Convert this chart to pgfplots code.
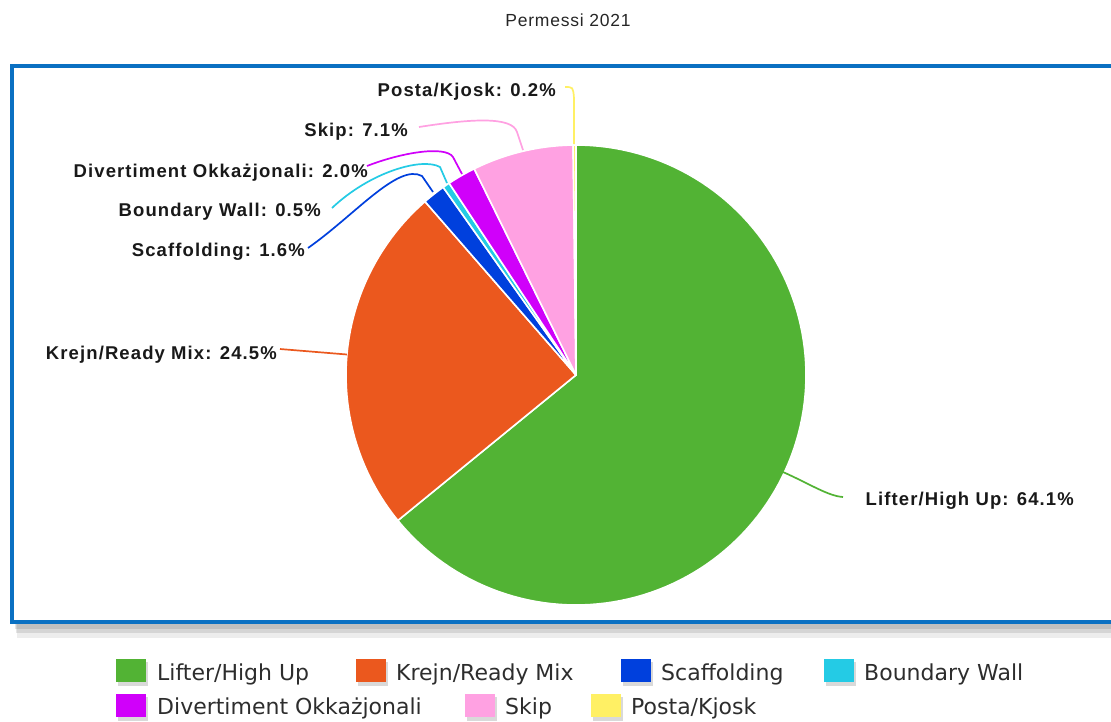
\documentclass[border=0pt]{standalone}
\usepackage{fontspec}
\setmainfont{Liberation Sans}
\newfontfamily\lblfont[LetterSpace=6]{Liberation Sans Bold}
\newfontfamily\legfont{DejaVu Sans}
\newfontfamily\titlefont[LetterSpace=4.5]{Liberation Sans}
\usepackage{pgfplots}
\pgfplotsset{compat=1.18}
\definecolor{cLifter}{RGB}{82,179,52}
\definecolor{cKrejn}{RGB}{235,88,30}
\definecolor{cScaf}{RGB}{0,64,221}
\definecolor{cBound}{RGB}{36,203,229}
\definecolor{cDiv}{RGB}{208,0,250}
\definecolor{cSkip}{RGB}{255,161,226}
\definecolor{cPosta}{RGB}{255,240,100}
\definecolor{boxblue}{RGB}{10,112,194}
\definecolor{txtgray}{RGB}{45,45,45}
\tikzset{
  lbl/.style={anchor=base east, inner sep=0pt, font=\lblfont\fontsize{18.5}{22}\selectfont, text=black!90},
  leg/.style={anchor=base west, inner sep=0pt, font=\legfont\fontsize{22}{26}\selectfont, text=txtgray},
  lead/.style={line width=1.7pt},
  slice/.style={draw=white, line width=1.6pt, line join=round}}
\begin{document}
\begin{tikzpicture}
% shares in percent
\def\vLifter{64.1}\def\vKrejn{24.5}\def\vScaf{1.6}\def\vBound{0.5}
\def\vDiv{2.0}\def\vSkip{7.1}\def\vPosta{0.2}
\pgfmathsetmacro\aA{90}
\pgfmathsetmacro\aB{\aA-3.6*\vLifter}
\pgfmathsetmacro\aC{\aB-3.6*\vKrejn}
\pgfmathsetmacro\aD{\aC-3.6*\vScaf}
\pgfmathsetmacro\aE{\aD-3.6*\vBound}
\pgfmathsetmacro\aF{\aE-3.6*\vDiv}
\pgfmathsetmacro\aG{\aF-3.6*\vSkip}
\pgfmathsetmacro\aH{\aG-3.6*\vPosta}
\begin{axis}[name=ax, scale only axis, width=1111pt, height=721pt,
  xmin=0, xmax=1111, ymin=0, ymax=721, y dir=reverse, hide axis, clip=false]
% title
\node[anchor=base, inner sep=0pt, font=\titlefont\fontsize{17.5}{21}\selectfont, text=black!85] at (axis cs:568,26) {Permessi 2021};
% box with soft shadow
\fill[black, opacity=0.10] (axis cs:15,70) rectangle (axis cs:1130,629);
\fill[black, opacity=0.10] (axis cs:16,72) rectangle (axis cs:1130,633);
\fill[black, opacity=0.07] (axis cs:17,74) rectangle (axis cs:1130,638);
\draw[boxblue, line width=4pt, fill=white] (axis cs:12,66) rectangle (axis cs:1130,622);
% slices (clockwise from 12 o'clock)
\addplot[slice, fill=cLifter, domain=\aB:\aA, samples=120] ({576+230*cos(x)},{375-230*sin(x)}) -- (axis cs:576,375) -- cycle;
\addplot[slice, fill=cKrejn, domain=\aC:\aB, samples=50] ({576+230*cos(x)},{375-230*sin(x)}) -- (axis cs:576,375) -- cycle;
\addplot[slice, fill=cScaf, domain=\aD:\aC, samples=6] ({576+230*cos(x)},{375-230*sin(x)}) -- (axis cs:576,375) -- cycle;
\addplot[slice, fill=cBound, domain=\aE:\aD, samples=4] ({576+230*cos(x)},{375-230*sin(x)}) -- (axis cs:576,375) -- cycle;
\addplot[slice, fill=cDiv, domain=\aF:\aE, samples=6] ({576+230*cos(x)},{375-230*sin(x)}) -- (axis cs:576,375) -- cycle;
\addplot[slice, fill=cSkip, domain=\aG:\aF, samples=16] ({576+230*cos(x)},{375-230*sin(x)}) -- (axis cs:576,375) -- cycle;
\addplot[slice, fill=cPosta, domain=\aH:\aG, samples=3] ({576+230*cos(x)},{375-230*sin(x)}) -- (axis cs:576,375) -- cycle;
% leader lines
\draw[cPosta, lead] (axis cs:565,87) .. controls (axis cs:573,87) .. (axis cs:574,98) -- (axis cs:574,144);
\draw[cSkip, lead] (axis cs:419,127) .. controls (axis cs:470,119) and (axis cs:512,116) .. (axis cs:517,132) -- (axis cs:523,150);
\draw[cDiv, lead] (axis cs:367,166) .. controls (axis cs:400,153) and (axis cs:445,145) .. (axis cs:453,157) -- (axis cs:462,174);
\draw[cBound, lead] (axis cs:332,208) .. controls (axis cs:370,172) and (axis cs:422,157) .. (axis cs:440,167) -- (axis cs:447,183);
\draw[cScaf, lead] (axis cs:308,248) .. controls (axis cs:355,215) and (axis cs:398,163) .. (axis cs:422,176) -- (axis cs:433,192);
\draw[cKrejn, lead] (axis cs:280,349) -- (axis cs:347,354.5);
\draw[cLifter, lead] (axis cs:783,472) .. controls (axis cs:810,484) and (axis cs:828,496) .. (axis cs:843,497);
% labels
\node[lbl] at (axis cs:556,96) {Posta/Kjosk: 0.2\%};
\node[lbl] at (axis cs:408,136.5) {Skip: 7.1\%};
\node[lbl] at (axis cs:368,177.5) {Divertiment Okkażjonali: 2.0\%};
\node[lbl] at (axis cs:321,216.5) {Boundary Wall: 0.5\%};
\node[lbl] at (axis cs:305,256.5) {Scaffolding: 1.6\%};
\node[lbl] at (axis cs:277,359.5) {Krejn/Ready Mix: 24.5\%};
\node[lbl] at (axis cs:1074,505.5) {Lifter/High Up: 64.1\%};
% legend
\fill[black, opacity=0.15] (axis cs:118,662) rectangle (axis cs:148,686);
\fill[cLifter] (axis cs:116,659) rectangle (axis cs:146,682);
\node[leg] at (axis cs:157,680) {Lifter/High Up};
\fill[black, opacity=0.15] (axis cs:358,662) rectangle (axis cs:388,686);
\fill[cKrejn] (axis cs:356,659) rectangle (axis cs:386,682);
\node[leg] at (axis cs:396,680) {Krejn/Ready Mix};
\fill[black, opacity=0.15] (axis cs:623,662) rectangle (axis cs:653,686);
\fill[cScaf] (axis cs:621,659) rectangle (axis cs:651,682);
\node[leg] at (axis cs:661,680) {Scaffolding};
\fill[black, opacity=0.15] (axis cs:826,662) rectangle (axis cs:856,686);
\fill[cBound] (axis cs:824,659) rectangle (axis cs:854,682);
\node[leg] at (axis cs:864,680) {Boundary Wall};
\fill[black, opacity=0.15] (axis cs:118,697) rectangle (axis cs:148,721);
\fill[cDiv] (axis cs:116,694) rectangle (axis cs:146,717);
\node[leg] at (axis cs:157,714) {Divertiment Okkażjonali};
\fill[black, opacity=0.15] (axis cs:467,697) rectangle (axis cs:497,721);
\fill[cSkip] (axis cs:465,694) rectangle (axis cs:495,717);
\node[leg] at (axis cs:505,714) {Skip};
\fill[black, opacity=0.15] (axis cs:593,697) rectangle (axis cs:623,721);
\fill[cPosta] (axis cs:591,694) rectangle (axis cs:621,717);
\node[leg] at (axis cs:631,714) {Posta/Kjosk};
\end{axis}
\pgfresetboundingbox
\useasboundingbox (ax.south west) rectangle (ax.north east);
\end{tikzpicture}
\end{document}
